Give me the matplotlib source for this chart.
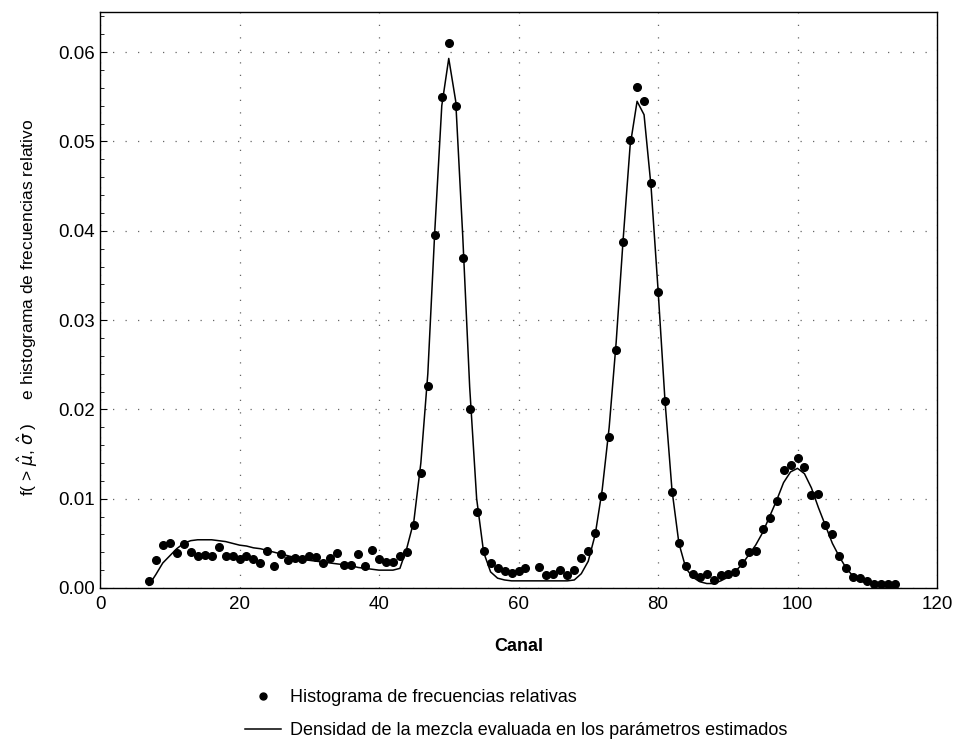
import matplotlib
matplotlib.use("Agg")
import matplotlib.pyplot as plt
from matplotlib.lines import Line2D
from matplotlib.ticker import MultipleLocator

# relative frequency histogram (one value per channel)
canal = [7, 8, 9, 10, 11, 12, 13, 14, 15, 16, 17, 18, 19, 20, 21, 22, 23, 24, 25, 26,
         27, 28, 29, 30, 31, 32, 33, 34, 35, 36, 37, 38, 39, 40, 41, 42, 43, 44, 45, 46,
         47, 48, 49, 50, 51, 52, 53, 54, 55, 56, 57, 58, 59, 60, 61, 63, 64, 65, 66, 67,
         68, 69, 70, 71, 72, 73, 74, 75, 76, 77, 78, 79, 80, 81, 82, 83, 84, 85, 86, 87,
         88, 89, 90, 91, 92, 93, 94, 95, 96, 97, 98, 99, 100, 101, 102, 103, 104, 105,
         106, 107, 108, 109, 110, 111, 112, 113, 114]
frec_rel = [0.0008, 0.0031, 0.0048, 0.0050, 0.0039, 0.0049, 0.0040, 0.0036, 0.0037, 0.0036,
            0.0046, 0.0036, 0.0036, 0.0032, 0.0036, 0.0032, 0.0028, 0.0041, 0.0025, 0.0038,
            0.0031, 0.0034, 0.0032, 0.0036, 0.0035, 0.0028, 0.0034, 0.0039, 0.0026, 0.0026,
            0.0038, 0.0025, 0.0043, 0.0032, 0.0029, 0.0029, 0.0036, 0.0040, 0.0071, 0.0129,
            0.0226, 0.0395, 0.0550, 0.0610, 0.0540, 0.0369, 0.0200, 0.0085, 0.0041, 0.0028,
            0.0022, 0.0019, 0.0017, 0.0019, 0.0022, 0.0024, 0.0015, 0.0016, 0.0020, 0.0015,
            0.0020, 0.0034, 0.0041, 0.0062, 0.0103, 0.0169, 0.0267, 0.0388, 0.0502, 0.0561,
            0.0545, 0.0454, 0.0331, 0.0209, 0.0108, 0.0050, 0.0025, 0.0016, 0.0012, 0.0016,
            0.0009, 0.0014, 0.0016, 0.0018, 0.0028, 0.0040, 0.0041, 0.0066, 0.0078, 0.0097,
            0.0132, 0.0138, 0.0146, 0.0136, 0.0104, 0.0105, 0.0070, 0.0060, 0.0036, 0.0022,
            0.0012, 0.0011, 0.0008, 0.0005, 0.0004, 0.0004, 0.0005]

# fitted mixture density, evaluated on channels 7..114
canal_dens = list(range(7, 115))
densidad = [0.0003, 0.0015, 0.0028, 0.0036, 0.0044, 0.0050, 0.0053, 0.0054, 0.0054, 0.0054,
            0.0053, 0.0052, 0.0050, 0.0048, 0.0047, 0.0045, 0.0044, 0.0042, 0.0040, 0.0038,
            0.0036, 0.0034, 0.0032, 0.0031, 0.0030, 0.0029, 0.0028, 0.0027, 0.0026, 0.0025,
            0.0023, 0.0022, 0.0021, 0.0020, 0.0020, 0.0020, 0.0022, 0.0045, 0.0075, 0.0140,
            0.0240, 0.0400, 0.0540, 0.0593, 0.0545, 0.0395, 0.0225, 0.0100, 0.0040, 0.0018,
            0.0011, 0.0009, 0.0008, 0.0008, 0.0008, 0.0008, 0.0008, 0.0008, 0.0008, 0.0008,
            0.0008, 0.0009, 0.0016, 0.0030, 0.0060, 0.0110, 0.0180, 0.0275, 0.0390, 0.0495,
            0.0545, 0.0530, 0.0450, 0.0335, 0.0210, 0.0110, 0.0050, 0.0022, 0.0012, 0.0007,
            0.0005, 0.0005, 0.0008, 0.0012, 0.0018, 0.0026, 0.0037, 0.0048, 0.0062, 0.0080,
            0.0098, 0.0118, 0.0130, 0.0134, 0.0128, 0.0112, 0.0090, 0.0070, 0.0050, 0.0035,
            0.0022, 0.0013, 0.0008, 0.0005, 0.0003, 0.0002, 0.0001, 0.0001]

x_ticks = [0, 20, 40, 60, 80, 100, 120]
y_ticks = [0.00, 0.01, 0.02, 0.03, 0.04, 0.05, 0.06]

plt.rcParams['font.family'] = ['Liberation Sans Narrow', 'Liberation Sans', 'DejaVu Sans']

fig = plt.figure(figsize=(9.57, 7.46), dpi=100)
ax = fig.add_axes([100 / 957, 1 - 588 / 746, 837 / 957, 576 / 746])

ax.plot(canal_dens, densidad, color='black', lw=1.1, zorder=3)
ax.plot(canal, frec_rel, 'o', color='black', ms=5.5, zorder=4)

ax.set_xlim(0, 120)
ax.set_ylim(0, 0.0645)
ax.set_xticks(x_ticks)
ax.set_yticks(y_ticks)
ax.set_yticklabels([f"{v:.2f}" for v in y_ticks])
ax.yaxis.set_minor_locator(MultipleLocator(0.002))
ax.tick_params(axis='both', labelsize=13.5, direction='in', length=5, width=0.8)
ax.tick_params(axis='y', which='minor', direction='in', length=3)
ax.tick_params(axis='x', length=0, pad=6)
for s in ax.spines.values():
    s.set_linewidth(1.0)

ax.grid(True, color='#666666', linestyle=(0, (1, 9)), linewidth=0.9)
ax.set_axisbelow(True)

ax.set_xlabel('Canal', fontsize=13, fontweight='bold', labelpad=18)
fig.text(28 / 957, 1 - 307 / 746,
         r'f( > $\hat{\mu}$, $\hat{\sigma}$ )     e histograma de frecuencias relativo',
         rotation=90, ha='center', va='center', fontsize=12.5)

handles = [Line2D([], [], marker='o', color='black', linestyle='none', ms=5),
           Line2D([], [], color='black', lw=1.1)]
labels = ['Histograma de frecuencias relativas',
          'Densidad de la mezcla evaluada en los parámetros estimados']
fig.legend(handles, labels, loc='upper left', bbox_to_anchor=(238 / 957, 1 - 682 / 746),
           frameon=False, fontsize=13, handlelength=2.0, handletextpad=0.5,
           labelspacing=0.9, borderaxespad=0)

fig.savefig('out.png', dpi=100)
